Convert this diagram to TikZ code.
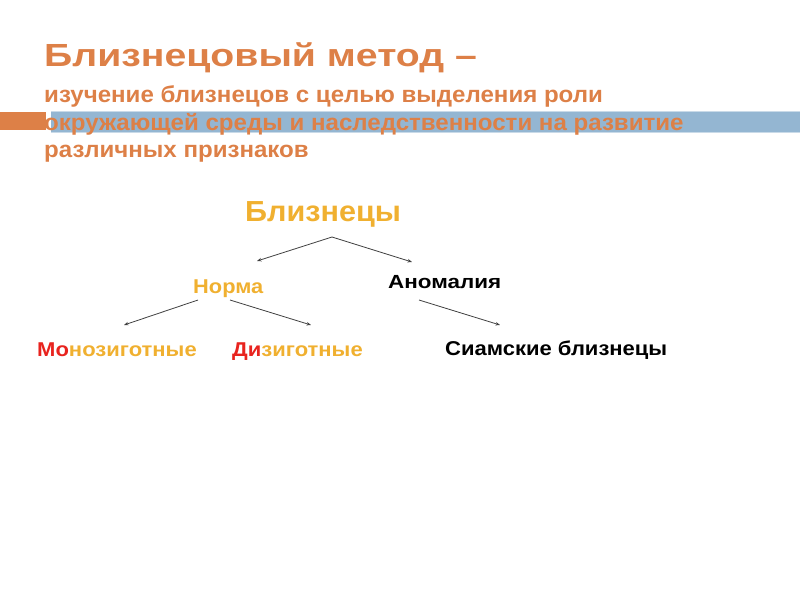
\documentclass[tikz,border=0pt]{standalone}
\usepackage{fontspec}
\setmainfont{Liberation Sans}
\usetikzlibrary{arrows.meta}
\definecolor{ttlorange}{HTML}{DD8047}
\definecolor{barblue}{HTML}{94B6D2}
\definecolor{barline}{HTML}{C9DAE8}
\definecolor{gold}{HTML}{F0B030}
\definecolor{brightred}{HTML}{E8231E}
\definecolor{arrowgray}{HTML}{404040}
\tikzset{
  lbl/.style={anchor=base west, inner sep=0pt, font=\bfseries},
  conn/.style={draw=arrowgray, line width=0.8pt, -{Stealth[length=4.5pt,width=3.5pt]}}
}
\begin{document}
\begin{tikzpicture}[x=1pt,y=-1pt]
\useasboundingbox (0,0) rectangle (800,600);
% bars
\fill[barblue] (51,111) rectangle (800,132);
\draw[barline, line width=0.8pt] (51,111) -- (800,111) (51,132) -- (800,132);
\fill[ttlorange] (0,112) rectangle (46,130);
% title
\node[lbl, text=ttlorange, font=\bfseries\fontsize{32}{36}\selectfont] (title) at (44,66) {\scalebox{1.225}[1]{Близнецовый метод –}};
\node[lbl, text=ttlorange, font=\bfseries\fontsize{23}{26}\selectfont] (sub1) at (44,102.5) {\scalebox{1.047}[1]{изучение близнецов с целью выделения роли}};
\node[lbl, text=ttlorange, font=\bfseries\fontsize{23}{26}\selectfont] (sub2) at (44,130) {\scalebox{1.047}[1]{окружающей среды и наследственности на развитие}};
\node[lbl, text=ttlorange, font=\bfseries\fontsize{23}{26}\selectfont] (sub3) at (44,157.5) {\scalebox{1.047}[1]{различных признаков}};
% tree
\node[lbl, text=gold, font=\bfseries\fontsize{29}{32}\selectfont] (twins) at (245,221) {\scalebox{1.055}[1]{Близнецы}};
\node[lbl, text=gold, font=\bfseries\fontsize{20}{24}\selectfont] (norm) at (193,293) {\scalebox{1.09}[1]{Норма}};
\node[lbl, text=black, font=\bfseries\fontsize{19}{24}\selectfont] (anom) at (388,288) {\scalebox{1.18}[1]{Аномалия}};
\node[lbl, text=gold, font=\bfseries\fontsize{20}{24}\selectfont] (mono) at (37,356) {\scalebox{1.1}[1]{\textcolor{brightred}{Мо}нозиготные}};
\node[lbl, text=gold, font=\bfseries\fontsize{20}{24}\selectfont] (di) at (232,356) {\scalebox{1.1}[1]{\textcolor{brightred}{Ди}зиготные}};
\node[lbl, text=black, font=\bfseries\fontsize{20}{24}\selectfont] (siam) at (445,355) {\scalebox{1.1}[1]{Сиамские близнецы}};
% connector ends
\coordinate (apex) at (332,237);
\coordinate (toNorm) at (257,261);
\coordinate (toAnom) at (412,262);
\coordinate (nL) at (198,300);
\coordinate (toMono) at (124,325);
\coordinate (nR) at (230,300);
\coordinate (toDi) at (311,325);
\coordinate (aS) at (419,300);
\coordinate (toSiam) at (500,325);
\draw[conn] (apex) -- (toNorm);
\draw[conn] (apex) -- (toAnom);
\draw[conn] (nL) -- (toMono);
\draw[conn] (nR) -- (toDi);
\draw[conn] (aS) -- (toSiam);
\end{tikzpicture}
\end{document}
